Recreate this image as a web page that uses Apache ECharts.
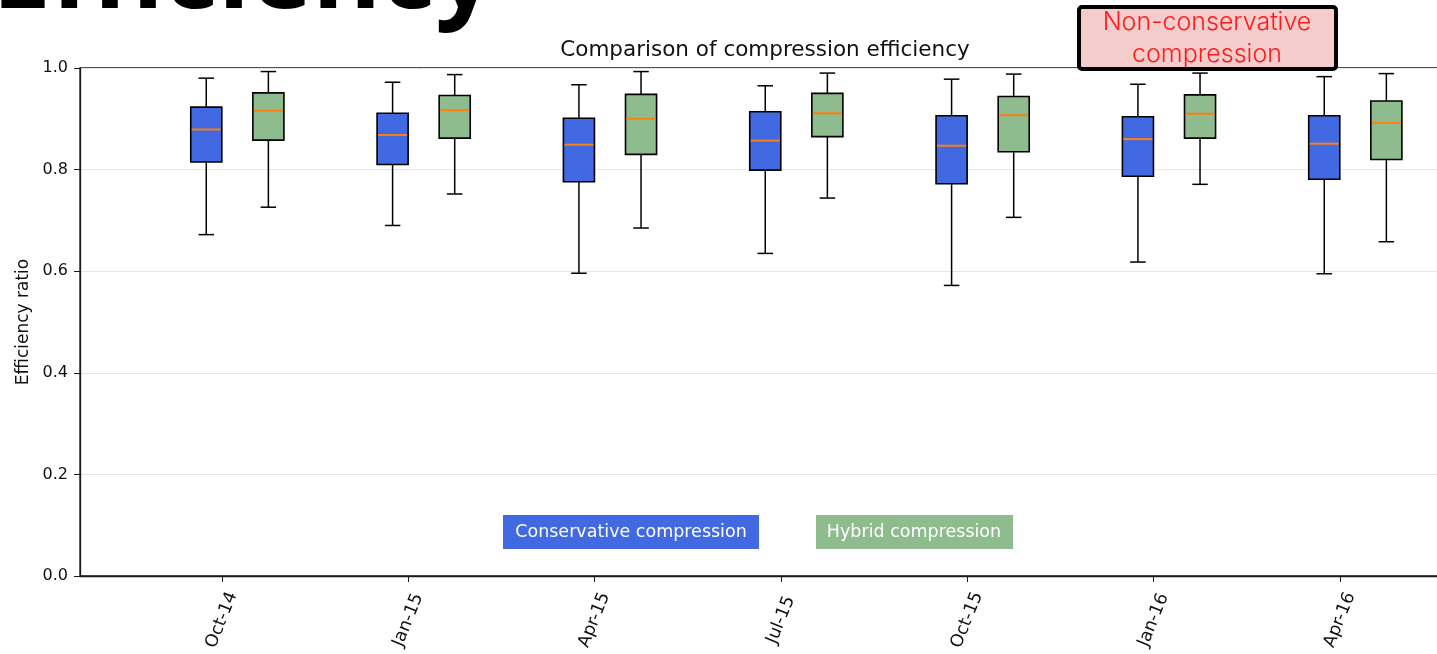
<!DOCTYPE html>
<html lang="en">
<head>
    <meta charset="UTF-8">
    <title>Comparison of compression efficiency</title>
    <script src="https://cdn.jsdelivr.net/npm/echarts@6/dist/echarts.min.js"></script>
    <style>
        html, body { margin: 0; padding: 0; background: #fff; }
    </style>
</head>
<body>
<div id="chart" style="width:1437px;height:654px;"></div>
<script>
    // quarter labels and their position in months from Oct-14
    var categories = ['Oct-14', 'Jan-15', 'Apr-15', 'Jul-15', 'Oct-15', 'Jan-16', 'Apr-16'];
    var tickMonths = [0, 3, 6, 9, 12, 15, 18];
    var yTicks = [0, 0.2, 0.4, 0.6, 0.8, 1.0];

    // [min, q1, median, q3, max]
    var conservative = [
        [0.672, 0.815, 0.879, 0.923, 0.980],
        [0.690, 0.810, 0.868, 0.911, 0.972],
        [0.596, 0.776, 0.849, 0.901, 0.967],
        [0.635, 0.799, 0.857, 0.914, 0.965],
        [0.572, 0.772, 0.847, 0.906, 0.978],
        [0.618, 0.787, 0.860, 0.904, 0.968],
        [0.595, 0.781, 0.851, 0.906, 0.983]
    ];
    var hybrid = [
        [0.726, 0.858, 0.916, 0.951, 0.993],
        [0.752, 0.862, 0.917, 0.946, 0.987],
        [0.685, 0.830, 0.900, 0.948, 0.993],
        [0.744, 0.865, 0.911, 0.950, 0.990],
        [0.706, 0.835, 0.907, 0.944, 0.988],
        [0.771, 0.862, 0.910, 0.947, 0.990],
        [0.658, 0.820, 0.892, 0.935, 0.989]
    ];

    function toRows(stats) {
        var rows = [];
        for (var i = 0; i < stats.length; i++) {
            rows.push([tickMonths[i]].concat(stats[i]));
        }
        return rows;
    }

    function boxRenderer(offset, color) {
        return function (params, api) {
            var x = api.value(0) + offset;
            var pMin = api.coord([x, api.value(1)]);
            var pQ1 = api.coord([x, api.value(2)]);
            var pMed = api.coord([x, api.value(3)]);
            var pQ3 = api.coord([x, api.value(4)]);
            var pMax = api.coord([x, api.value(5)]);
            var w = api.size([0.5, 0])[0];
            var cap = w / 2;
            var cx = pMin[0];
            var line = {stroke: '#000', lineWidth: 1.5};
            return {
                type: 'group',
                children: [
                    {type: 'line', shape: {x1: cx, y1: pMin[1], x2: cx, y2: pQ1[1]}, style: line},
                    {type: 'line', shape: {x1: cx, y1: pQ3[1], x2: cx, y2: pMax[1]}, style: line},
                    {type: 'line', shape: {x1: cx - cap / 2, y1: pMin[1], x2: cx + cap / 2, y2: pMin[1]}, style: line},
                    {type: 'line', shape: {x1: cx - cap / 2, y1: pMax[1], x2: cx + cap / 2, y2: pMax[1]}, style: line},
                    {type: 'rect', shape: {x: cx - w / 2, y: pQ3[1], width: w, height: pQ1[1] - pQ3[1]},
                        style: {fill: color, stroke: '#000', lineWidth: 1.6}},
                    {type: 'line', shape: {x1: cx - w / 2 + 1, y1: pMed[1], x2: cx + w / 2 - 1, y2: pMed[1]},
                        style: {stroke: '#ff7f0e', lineWidth: 2}}
                ]
            };
        };
    }

    var chart = echarts.init(document.getElementById('chart'));
    var option = {
        animation: false,
        textStyle: {fontFamily: 'DejaVu Sans'},
        grid: {
            left: 80, width: 1384, top: 68, bottom: 78,
            outerBoundsMode: 'none',
            containLabel: false,
            show: true, borderColor: '#1a1a1a', borderWidth: 1.3, backgroundColor: 'transparent'
        },
        xAxis: {
            type: 'value',
            min: -2.283,
            max: 20,
            splitLine: {show: false},
            axisLine: {show: true, onZero: false, lineStyle: {color: '#1a1a1a', width: 1.3}},
            axisTick: {show: true, customValues: tickMonths, length: 6, lineStyle: {color: '#1a1a1a'}},
            axisLabel: {
                customValues: tickMonths,
                rotate: 68,
                align: 'center',
                verticalAlign: 'middle',
                margin: 44,
                fontSize: 17.5,
                color: '#111',
                formatter: function (v) {
                    return categories[tickMonths.indexOf(v)];
                }
            }
        },
        yAxis: {
            type: 'value',
            min: 0,
            max: 1,
            interval: 0.2,
            name: 'Efficiency ratio',
            nameLocation: 'middle',
            nameGap: 48,
            nameTextStyle: {fontSize: 17, color: '#111'},
            axisLine: {show: true, onZero: false, lineStyle: {color: '#1a1a1a', width: 1.3}},
            axisTick: {show: true, length: 6, lineStyle: {color: '#1a1a1a'}},
            axisLabel: {
                customValues: yTicks,
                fontSize: 16, color: '#111', margin: 12,
                formatter: function (v) { return v.toFixed(1); }
            },
            splitLine: {show: true, lineStyle: {color: '#e6e6e6', width: 1}}
        },
        series: [
            {
                name: 'Conservative compression',
                type: 'custom',
                renderItem: boxRenderer(-0.25, '#4169e1'),
                encode: {x: 0, y: [1, 2, 3, 4, 5]},
                data: toRows(conservative),
                z: 3
            },
            {
                name: 'Hybrid compression',
                type: 'custom',
                renderItem: boxRenderer(0.75, '#8fbc8f'),
                encode: {x: 0, y: [1, 2, 3, 4, 5]},
                data: toRows(hybrid),
                z: 3
            }
        ],
        graphic: [
            {
                type: 'text', left: -8, top: -74,
                style: {text: 'Efficiency', fontFamily: 'Open Sans', fontWeight: 'bold', fontSize: 105, fill: '#000'}
            },
            {
                type: 'text', x: 765, y: 50,
                style: {text: 'Comparison of compression efficiency', fontFamily: 'DejaVu Sans', fontSize: 21.5,
                    fill: '#111', align: 'center', verticalAlign: 'middle'}
            },
            {
                type: 'rect', shape: {x: 1079, y: 7, width: 257, height: 62, r: 3},
                style: {fill: '#f4cccc', stroke: '#000', lineWidth: 4}, z: 10
            },
            {
                type: 'text', x: 1207, y: 38, z: 11,
                style: {text: 'Non-conservative\ncompression', fontFamily: 'Inter', fontWeight: 300, fontSize: 25,
                    lineHeight: 32, fill: '#ff1a1a', align: 'center', verticalAlign: 'middle'}
            },
            {
                type: 'rect', shape: {x: 503, y: 515, width: 256, height: 34},
                style: {fill: '#4169e1'}, z: 10
            },
            {
                type: 'text', x: 631, y: 532, z: 11,
                style: {text: 'Conservative compression', fontFamily: 'DejaVu Sans', fontSize: 17.5,
                    fill: '#fff', align: 'center', verticalAlign: 'middle'}
            },
            {
                type: 'rect', shape: {x: 816, y: 515, width: 197, height: 34},
                style: {fill: '#8fbc8f'}, z: 10
            },
            {
                type: 'text', x: 914, y: 532, z: 11,
                style: {text: 'Hybrid compression', fontFamily: 'DejaVu Sans', fontSize: 17.5,
                    fill: '#fff', align: 'center', verticalAlign: 'middle'}
            }
        ]
    };
    chart.setOption(option);
</script>
</body>
</html>
